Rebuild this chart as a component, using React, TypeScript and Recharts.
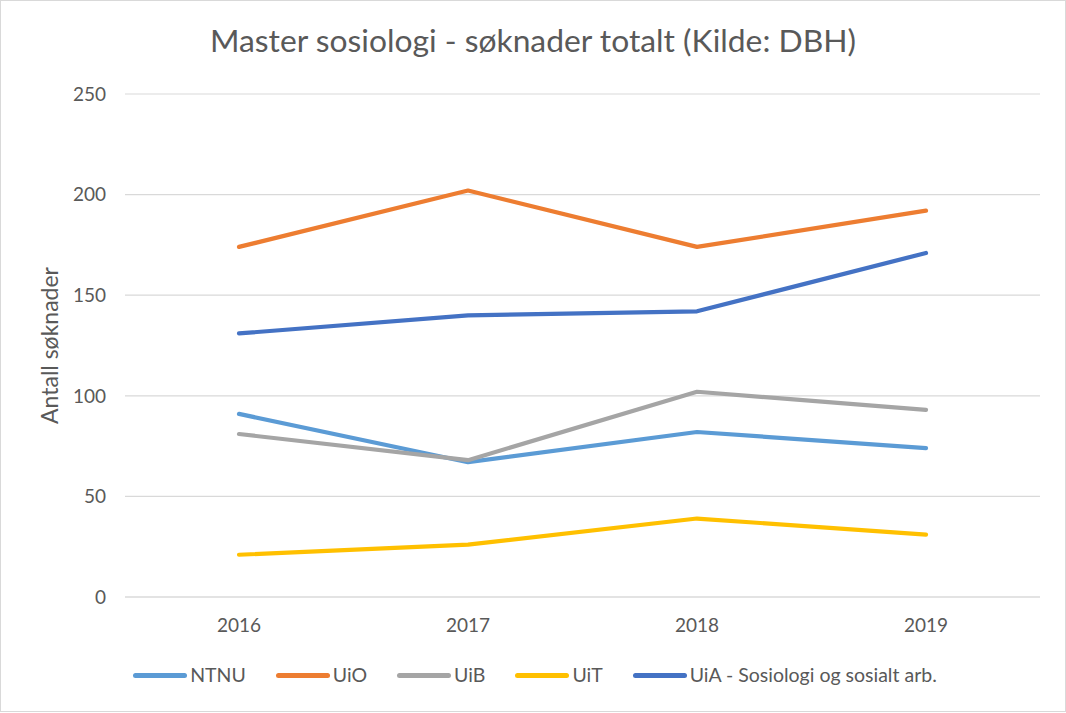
import React from 'react';
import { LineChart, Line, XAxis, YAxis, CartesianGrid, Legend } from 'recharts';

// ---- data ----
const years = ['2016', '2017', '2018', '2019'];
const ntnu = [91, 67, 82, 74];
const uio = [174, 202, 174, 192];
const uib = [81, 68, 102, 93];
const uit = [21, 26, 39, 31];
const uia = [131, 140, 142, 171];
const yTicks = [0, 50, 100, 150, 200, 250];
const seriesNames = ['NTNU', 'UiO', 'UiB', 'UiT', 'UiA - Sosiologi og sosialt arb.'];
const seriesValues = [ntnu, uio, uib, uit, uia];
const seriesColors = ['#5B9BD5', '#ED7D31', '#A5A5A5', '#FFC000', '#4472C4'];

const titleText = 'Master sosiologi - søknader totalt (Kilde: DBH)';
const yAxisTitle = 'Antall søknader';

const data = years.map((year, i) => {
  const row: Record<string, string | number> = { year };
  seriesNames.forEach((name, s) => {
    row[name] = seriesValues[s][i];
  });
  return row;
});

const FONT = 'Lato, "Open Sans", sans-serif';
const TEXT = '#595959';
const GRID = '#d9d9d9';

const W = 1066;
const H = 713;

const LegendContent = (props: any) => {
  const payload = [...(props.payload || [])].sort(
    (a: any, b: any) => seriesNames.indexOf(a.value) - seriesNames.indexOf(b.value)
  );
  return (
    <div
      style={{
        height: 40,
        display: 'flex',
        justifyContent: 'center',
        alignItems: 'center',
        gap: 30,
        fontFamily: FONT,
        fontSize: 19.5,
        color: TEXT,
        paddingLeft: 30,
      }}
    >
      {payload.map((entry: any, i: number) => (
        <div key={i} style={{ display: 'flex', alignItems: 'center' }}>
          <div
            style={{
              width: 54,
              height: 5,
              borderRadius: 3,
              background: entry.color,
              marginRight: 3,
            }}
          />
          <span style={{ whiteSpace: 'nowrap', lineHeight: '20px' }}>{entry.value}</span>
        </div>
      ))}
    </div>
  );
};

const YTitle = (props: any) => {
  const vb = props.viewBox || { x: 0, y: 0, width: 0, height: 0 };
  const cx = vb.x + 49;
  const cy = vb.y + vb.height / 2;
  return (
    <text
      x={cx}
      y={cy}
      textAnchor="middle"
      dominantBaseline="central"
      transform={`rotate(-90 ${cx} ${cy})`}
      fill={TEXT}
      style={{ fontFamily: FONT, fontSize: 23 }}
    >
      {yAxisTitle}
    </text>
  );
};

export default function App() {
  return (
    <div style={{ position: 'absolute', left: 0, top: 0, width: W, height: H, background: '#fff' }}>
      <div
        style={{
          position: 'absolute',
          left: 0,
          top: 25,
          width: W,
          textAlign: 'center',
          fontFamily: FONT,
          fontSize: 31.8,
          lineHeight: 1,
          color: TEXT,
          whiteSpace: 'nowrap',
        }}
      >
        {titleText}
      </div>
      <LineChart
        width={W}
        height={H}
        data={data}
        margin={{ top: 94, right: 26, left: 0, bottom: 18 }}
      >
        <CartesianGrid vertical={false} stroke={GRID} strokeWidth={1.2} />
        <XAxis
          dataKey="year"
          height={58}
          padding={{ left: 114, right: 114 }}
          tickLine={false}
          tickSize={0}
          tickMargin={22}
          axisLine={{ stroke: GRID, strokeWidth: 1.2 }}
          tick={{ fill: TEXT, fontSize: 19, fontFamily: FONT }}
        />
        <YAxis
          width={125}
          domain={[0, 250]}
          ticks={yTicks}
          interval={0}
          axisLine={false}
          tickLine={false}
          tickSize={0}
          tickMargin={19}
          tick={{ fill: TEXT, fontSize: 19, fontFamily: FONT }}
          label={{ content: YTitle }}
        />
        <Legend verticalAlign="bottom" height={40} content={LegendContent} />
        {seriesNames.map((name, i) => (
          <Line
            key={name}
            type="linear"
            dataKey={name}
            name={name}
            stroke={seriesColors[i]}
            strokeWidth={4.2}
            strokeLinecap="round"
            strokeLinejoin="round"
            dot={false}
            activeDot={false}
            isAnimationActive={false}
          />
        ))}
      </LineChart>
      <div
        style={{
          position: 'absolute',
          left: 0,
          top: 0,
          width: W,
          height: H - 1,
          boxSizing: 'border-box',
          border: `1px solid ${GRID}`,
          pointerEvents: 'none',
        }}
      />
    </div>
  );
}
